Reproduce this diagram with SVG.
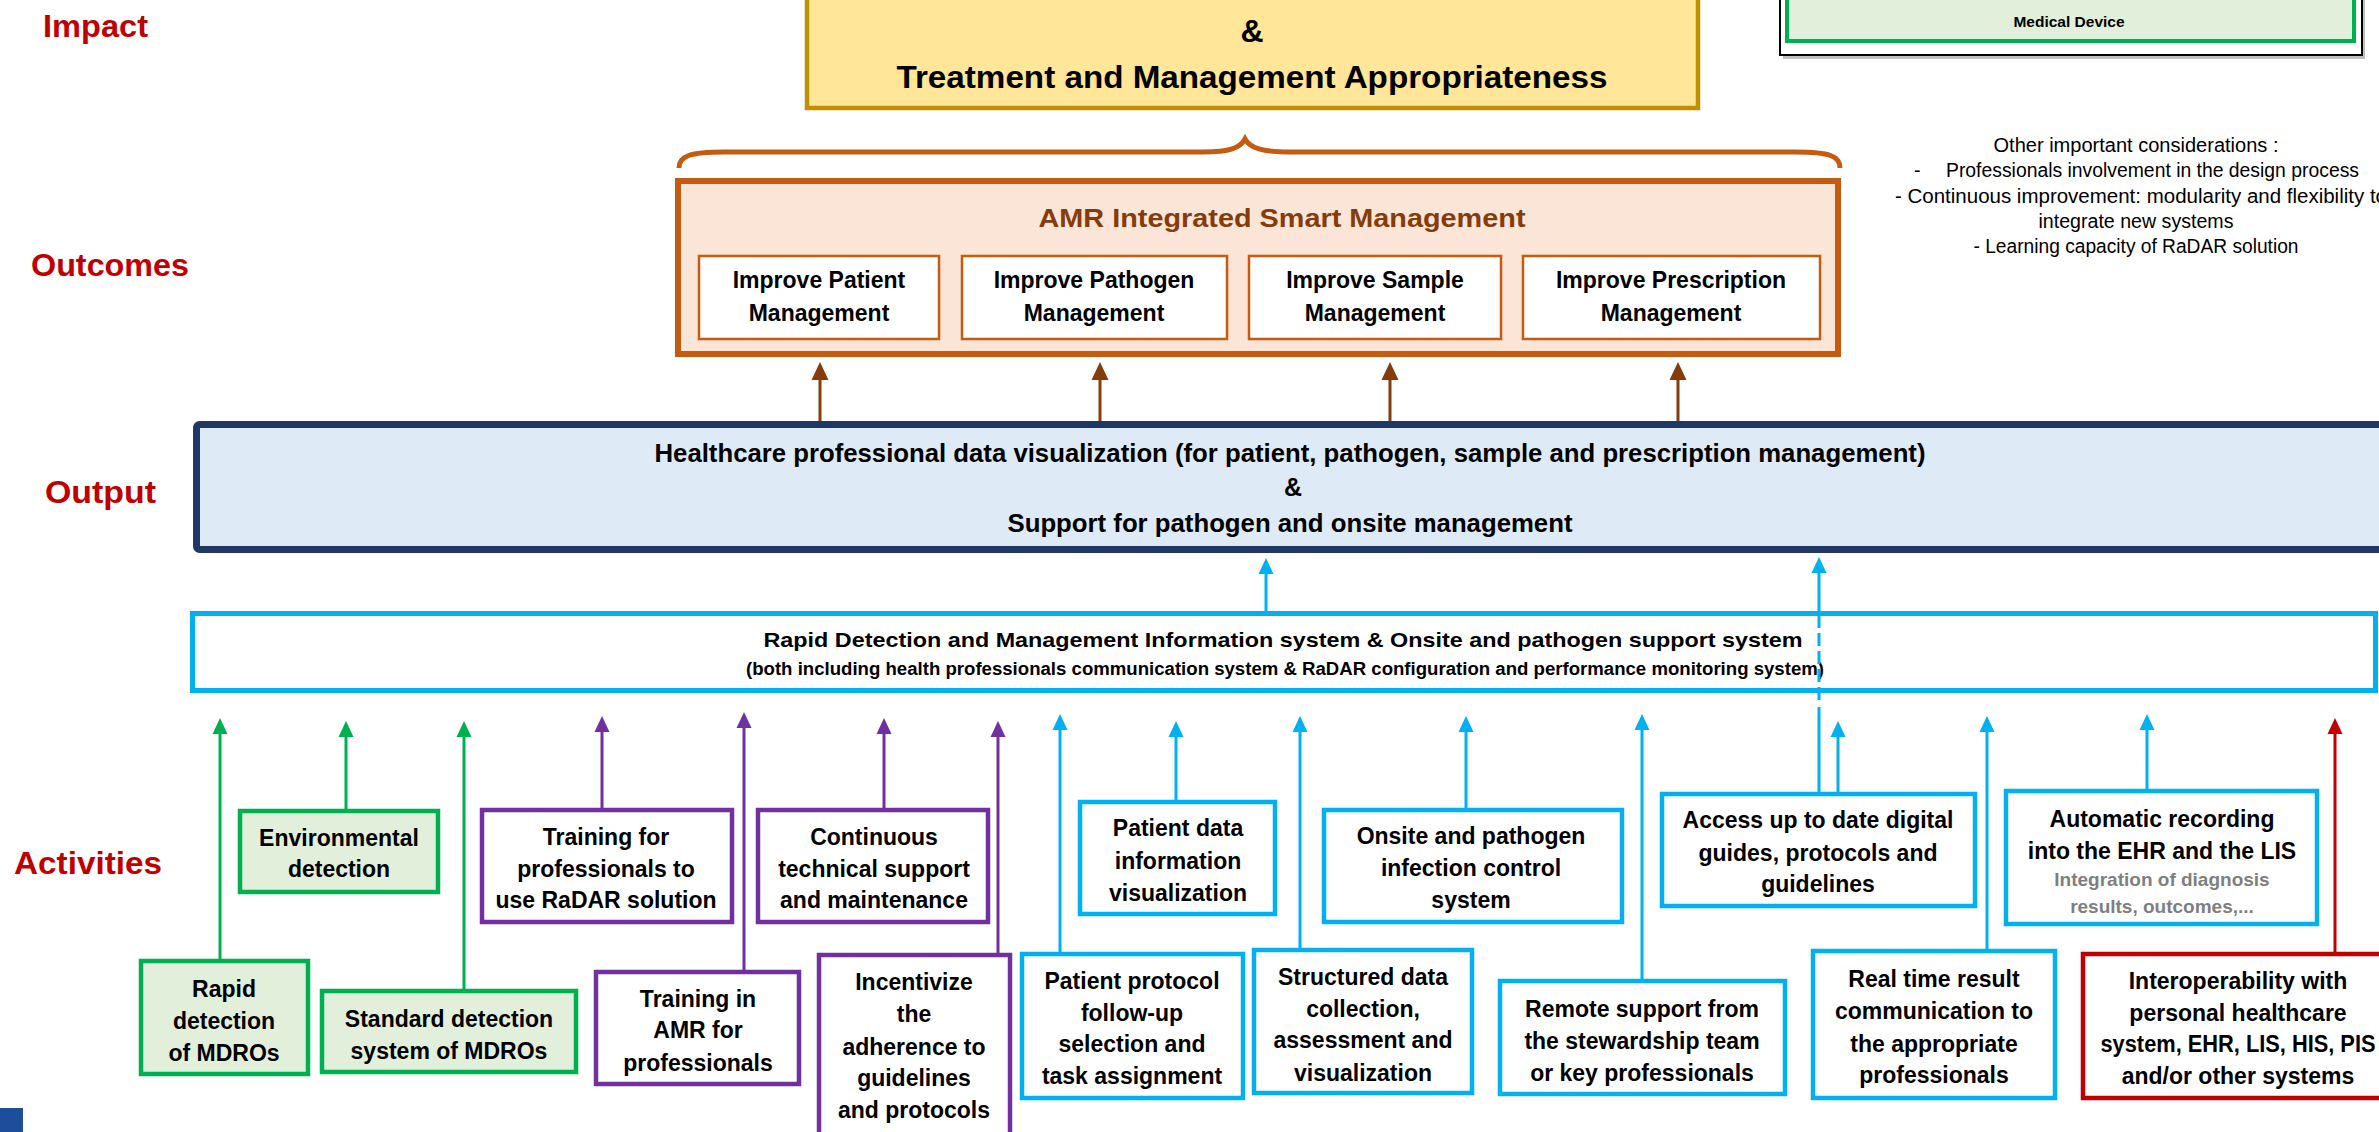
<svg xmlns="http://www.w3.org/2000/svg" width="2379" height="1132" viewBox="0 0 2379 1132">
<style>
text{font-family:"Liberation Sans",Arial,sans-serif;font-weight:bold;fill:#000}
.lbl{font-size:32px;fill:#C00000}
.act{font-size:23px;text-anchor:middle}
.sub{font-size:23px;text-anchor:middle}
.gray{font-size:19px;fill:#7F7F7F;text-anchor:middle}
.note{font-size:19.5px;font-weight:normal}
.green{fill:#E2EFDA;stroke:#00B050;stroke-width:4.5}
.purple{fill:#fff;stroke:#7030A0;stroke-width:4.5}
.cyan{fill:#fff;stroke:#00B0F0;stroke-width:4.5}
.red{fill:#fff;stroke:#C00000;stroke-width:4.5}
.obox{fill:#fff;stroke:#C55A11;stroke-width:2.5}
.c{fill:none;stroke-width:3}
</style>
<defs>
<marker id="ah-g" viewBox="0 0 16 16" markerWidth="16" markerHeight="16" refX="6" refY="8" orient="auto" markerUnits="userSpaceOnUse"><path d="M0,0.5 L16,8 L0,15.5 z" fill="#00B050"/></marker>
<marker id="ah-p" viewBox="0 0 16 16" markerWidth="16" markerHeight="16" refX="6" refY="8" orient="auto" markerUnits="userSpaceOnUse"><path d="M0,0.5 L16,8 L0,15.5 z" fill="#7030A0"/></marker>
<marker id="ah-c" viewBox="0 0 16 16" markerWidth="16" markerHeight="16" refX="6" refY="8" orient="auto" markerUnits="userSpaceOnUse"><path d="M0,0.5 L16,8 L0,15.5 z" fill="#00B0F0"/></marker>
<marker id="ah-r" viewBox="0 0 16 16" markerWidth="16" markerHeight="16" refX="6" refY="8" orient="auto" markerUnits="userSpaceOnUse"><path d="M0,0.5 L16,8 L0,15.5 z" fill="#C00000"/></marker>
<marker id="ah-b" viewBox="0 0 18 18" markerWidth="18" markerHeight="18" refX="7" refY="9" orient="auto" markerUnits="userSpaceOnUse"><path d="M0,0.5 L18,9 L0,17.5 z" fill="#843C0C"/></marker>
</defs>
<rect width="2379" height="1132" fill="#fff"/>

<g id="labels">
<text class="lbl" x="43" y="37" textLength="105" lengthAdjust="spacingAndGlyphs">Impact</text>
<text class="lbl" x="31" y="276" textLength="158" lengthAdjust="spacingAndGlyphs">Outcomes</text>
<text class="lbl" x="45" y="503" textLength="111" lengthAdjust="spacingAndGlyphs">Output</text>
<text class="lbl" x="14" y="874" textLength="148" lengthAdjust="spacingAndGlyphs">Activities</text>
</g>

<g id="impact">
<rect x="807" y="-10" width="891" height="118" fill="#FFE699" stroke="#BF9000" stroke-width="4.5"/>
<text x="1252" y="42" font-size="32" text-anchor="middle">&amp;</text>
<text x="1252" y="88" font-size="32" text-anchor="middle" textLength="711" lengthAdjust="spacingAndGlyphs">Treatment and Management Appropriateness</text>
</g>

<g id="legend">
<rect x="1783" y="-16" width="582" height="75" fill="#BFBFBF"/>
<rect x="1780" y="-20" width="582" height="75" fill="#fff" stroke="#000" stroke-width="2"/>
<rect x="1787" y="-20" width="567" height="61" fill="#E2EFDA" stroke="#00B050" stroke-width="4"/>
<text x="2069" y="27" font-size="15.5" text-anchor="middle">Medical Device</text>
</g>

<g id="considerations">
<text class="note" x="2136" y="152" text-anchor="middle" textLength="285" lengthAdjust="spacingAndGlyphs">Other important considerations :</text>
<text class="note" x="1914" y="177">-</text>
<text class="note" x="1946" y="177" textLength="413" lengthAdjust="spacingAndGlyphs">Professionals involvement in the design process</text>
<text class="note" x="1895" y="203" textLength="492" lengthAdjust="spacingAndGlyphs">- Continuous improvement: modularity and flexibility to</text>
<text class="note" x="2136" y="228" text-anchor="middle" textLength="195" lengthAdjust="spacingAndGlyphs">integrate new systems</text>
<text class="note" x="2136" y="253" text-anchor="middle" textLength="325" lengthAdjust="spacingAndGlyphs">- Learning capacity of RaDAR solution</text>
</g>

<path id="brace" d="M679,168 C679,156 690,152 724,152 L1203,152 C1230,152 1240,148 1245,139 C1250,148 1262,152 1290,152 L1795,152 C1830,152 1840,156 1840,168" fill="none" stroke="#C55A11" stroke-width="5"/>

<g id="outcomes">
<rect x="678" y="181" width="1160" height="173" fill="#FBE5D6" stroke="#C55A11" stroke-width="6"/>
<text x="1282" y="227" font-size="26" text-anchor="middle" style="fill:#843C0C" textLength="487" lengthAdjust="spacingAndGlyphs">AMR Integrated Smart Management</text>
</g>
<g id="out-patient"><rect class="obox" x="699" y="256" width="240" height="83"/><text class="sub" x="819" y="288">Improve Patient</text><text class="sub" x="819" y="321">Management</text></g>
<g id="out-pathogen"><rect class="obox" x="962" y="256" width="265" height="83"/><text class="sub" x="1094" y="288">Improve Pathogen</text><text class="sub" x="1094" y="321">Management</text></g>
<g id="out-sample"><rect class="obox" x="1249" y="256" width="252" height="83"/><text class="sub" x="1375" y="288">Improve Sample</text><text class="sub" x="1375" y="321">Management</text></g>
<g id="out-prescription"><rect class="obox" x="1523" y="256" width="297" height="83"/><text class="sub" x="1671" y="288">Improve Prescription</text><text class="sub" x="1671" y="321">Management</text></g>

<g id="output">
<rect x="196.5" y="424.5" width="2200" height="125" rx="3" fill="#DEEBF7" stroke="#203864" stroke-width="7"/>
<text x="1290" y="462" font-size="25" text-anchor="middle" textLength="1271" lengthAdjust="spacingAndGlyphs">Healthcare professional data visualization (for patient, pathogen, sample and prescription management)</text>
<text x="1293" y="496" font-size="25" text-anchor="middle">&amp;</text>
<text x="1290" y="532" font-size="25" text-anchor="middle" textLength="565" lengthAdjust="spacingAndGlyphs">Support for pathogen and onsite management</text>
</g>

<g id="system">
<rect x="192.5" y="613.5" width="2183" height="77" fill="#fff" stroke="#00B0F0" stroke-width="5"/>
<text x="1283" y="647" font-size="21" text-anchor="middle" textLength="1039" lengthAdjust="spacingAndGlyphs">Rapid  Detection and Management  Information system &amp; Onsite and pathogen support  system</text>
<text x="1285" y="675" font-size="17.5" text-anchor="middle" textLength="1078" lengthAdjust="spacingAndGlyphs">(both including health professionals communication system &amp; RaDAR configuration and performance monitoring system)</text>
</g>

<g id="act-environmental"><rect class="green" x="240" y="811" width="198" height="81"/><text class="act" x="339" y="846">Environmental</text><text class="act" x="339" y="877">detection</text></g>
<g id="act-rapid"><rect class="green" x="141" y="961" width="167" height="113"/><text class="act" x="224" y="997">Rapid</text><text class="act" x="224" y="1029">detection</text><text class="act" x="224" y="1061">of MDROs</text></g>
<g id="act-standard"><rect class="green" x="322" y="991" width="254" height="81"/><text class="act" x="449" y="1027">Standard detection</text><text class="act" x="449" y="1059">system of MDROs</text></g>
<g id="act-training-radar"><rect class="purple" x="482" y="810" width="250" height="112"/><text class="act" x="606" y="845">Training for</text><text class="act" x="606" y="877">professionals to</text><text class="act" x="606" y="908">use RaDAR solution</text></g>
<g id="act-training-amr"><rect class="purple" x="596" y="972" width="203" height="112"/><text class="act" x="698" y="1007">Training in</text><text class="act" x="698" y="1038">AMR for</text><text class="act" x="698" y="1071">professionals</text></g>
<g id="act-continuous"><rect class="purple" x="758" y="810" width="230" height="112"/><text class="act" x="874" y="845">Continuous</text><text class="act" x="874" y="877">technical support</text><text class="act" x="874" y="908">and maintenance</text></g>
<g id="act-incentivize"><rect class="purple" x="819" y="955" width="191" height="190"/><text class="act" x="914" y="990">Incentivize</text><text class="act" x="914" y="1022">the</text><text class="act" x="914" y="1055">adherence to</text><text class="act" x="914" y="1086">guidelines</text><text class="act" x="914" y="1118">and protocols</text></g>
<g id="act-patient-data"><rect class="cyan" x="1080" y="802" width="195" height="112"/><text class="act" x="1178" y="836">Patient data</text><text class="act" x="1178" y="869">information</text><text class="act" x="1178" y="901">visualization</text></g>
<g id="act-patient-protocol"><rect class="cyan" x="1022" y="954" width="221" height="144"/><text class="act" x="1132" y="989">Patient protocol</text><text class="act" x="1132" y="1021">follow-up</text><text class="act" x="1132" y="1052">selection and</text><text class="act" x="1132" y="1084">task assignment</text></g>
<g id="act-structured"><rect class="cyan" x="1254" y="950" width="218" height="143"/><text class="act" x="1363" y="985">Structured data</text><text class="act" x="1363" y="1017">collection,</text><text class="act" x="1363" y="1048">assessment and</text><text class="act" x="1363" y="1081">visualization</text></g>
<g id="act-onsite"><rect class="cyan" x="1324" y="810" width="298" height="112"/><text class="act" x="1471" y="844">Onsite and pathogen</text><text class="act" x="1471" y="876">infection control</text><text class="act" x="1471" y="908">system</text></g>
<g id="act-remote"><rect class="cyan" x="1500" y="981" width="285" height="113"/><text class="act" x="1642" y="1017">Remote support from</text><text class="act" x="1642" y="1049">the stewardship team</text><text class="act" x="1642" y="1081">or key professionals</text></g>
<g id="act-access"><rect class="cyan" x="1662" y="794" width="313" height="112"/><text class="act" x="1818" y="828">Access up to date digital</text><text class="act" x="1818" y="861">guides, protocols and</text><text class="act" x="1818" y="892">guidelines</text></g>
<g id="act-realtime"><rect class="cyan" x="1813" y="951" width="242" height="147"/><text class="act" x="1934" y="987">Real time result</text><text class="act" x="1934" y="1019">communication to</text><text class="act" x="1934" y="1052">the appropriate</text><text class="act" x="1934" y="1083">professionals</text></g>
<g id="act-automatic"><rect class="cyan" x="2006" y="791" width="311" height="133"/><text class="act" x="2162" y="827">Automatic recording</text><text class="act" x="2162" y="859">into the EHR and the LIS</text><text class="gray" x="2162" y="886">Integration of diagnosis</text><text class="gray" x="2162" y="913">results, outcomes,...</text></g>
<g id="act-interop"><rect class="red" x="2083" y="954" width="310" height="144"/><text class="act" x="2238" y="989">Interoperability with</text><text class="act" x="2238" y="1021">personal healthcare</text><text class="act" x="2238" y="1052" textLength="275" lengthAdjust="spacingAndGlyphs">system, EHR, LIS, HIS, PIS</text><text class="act" x="2238" y="1084">and/or other systems</text></g>

<g id="connectors">
<g marker-end="url(#ah-g)">
<path class="c" stroke="#00B050" d="M220,959 V728"/>
<path class="c" stroke="#00B050" d="M346,809 V731"/>
<path class="c" stroke="#00B050" d="M464,989 V731"/>
</g>
<g marker-end="url(#ah-p)">
<path class="c" stroke="#7030A0" d="M602,808 V726"/>
<path class="c" stroke="#7030A0" d="M744,970 V722"/>
<path class="c" stroke="#7030A0" d="M884,808 V728"/>
<path class="c" stroke="#7030A0" d="M998,953 V731"/>
</g>
<g marker-end="url(#ah-c)">
<path class="c" stroke="#00B0F0" d="M1060,952 V724"/>
<path class="c" stroke="#00B0F0" d="M1176,800 V731"/>
<path class="c" stroke="#00B0F0" d="M1300,948 V726"/>
<path class="c" stroke="#00B0F0" d="M1466,808 V726"/>
<path class="c" stroke="#00B0F0" d="M1642,979 V724"/>
<path class="c" stroke="#00B0F0" d="M1838,792 V731"/>
<path class="c" stroke="#00B0F0" d="M1987,949 V726"/>
<path class="c" stroke="#00B0F0" d="M2147,789 V724"/>
<path class="c" stroke="#00B0F0" d="M1266,611 V568"/>
<path class="c" stroke="#00B0F0" d="M1819,611 V567"/>
</g>
<path class="c" stroke="#00B0F0" d="M1819,792 V707"/>
<path class="c" stroke="#00B0F0" stroke-dasharray="13 5" d="M1819,700 V611"/>
<path class="c" stroke="#C00000" marker-end="url(#ah-r)" d="M2335,952 V728"/>
<g marker-end="url(#ah-b)">
<path class="c" stroke="#843C0C" d="M820,421 V373"/>
<path class="c" stroke="#843C0C" d="M1100,421 V373"/>
<path class="c" stroke="#843C0C" d="M1390,421 V373"/>
<path class="c" stroke="#843C0C" d="M1678,421 V373"/>
</g>
</g>

<rect id="corner-mark" x="0" y="1108" width="23" height="24" fill="#1E4D9B"/>
</svg>
